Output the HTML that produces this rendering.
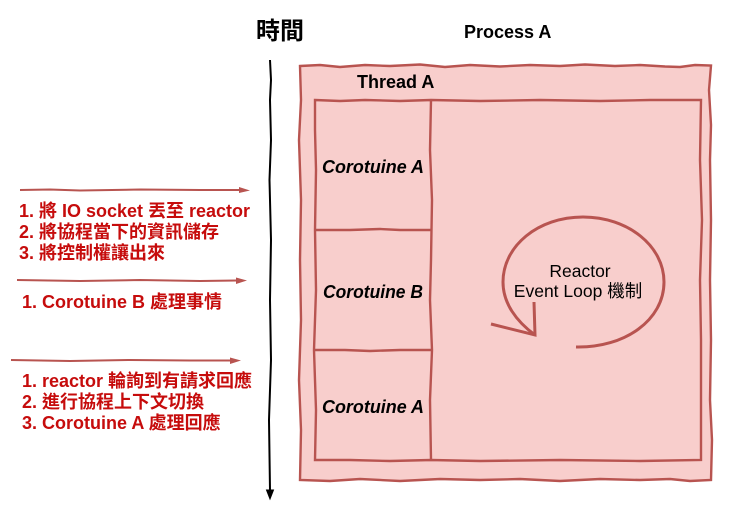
<!DOCTYPE html>
<html><head><meta charset="utf-8"><style>
html,body{margin:0;padding:0;background:#fff;width:731px;height:511px;overflow:hidden}
svg{display:block}
text{font-family:"Liberation Sans","Noto Sans CJK TC",sans-serif}
.r{fill:#c60c0c;font-weight:bold;font-size:18px}
.c{font-weight:bold;font-style:italic;font-size:18px;fill:#000}
.b{font-weight:bold;font-size:18px;fill:#000}
.l{fill:none;stroke:#b85450;stroke-width:2.4}
</style></head><body>
<svg width="731" height="511" viewBox="0 0 731 511" xmlns="http://www.w3.org/2000/svg">
<path d="M300 66 L320 65 L340 67 L365 65 L390 66 L420 64.500 L445 67 L470 65 L500 66.500 L530 65 L560 66 L585 64.500 L615 66 L640 65 L665 66.500 L680 67 L695 65 L711 65.500 L709 90 L711 125 L710 160 L711 220 L710 280 L711 340 L710 400 L712 440 L711 480 L690 481 L670 479 L640 480 L600 479 L560 481 L520 479 L480 480 L440 479 L400 481 L360 479 L330 481 L300 480 L301 430 L299 380 L301 320 L300 260 L301 200 L299 140 L301 100 Z" fill="#f8cecc" stroke="#b85450" stroke-width="2.4"/>
<path class="l" d="M315 100 L340 101 L365 100 L400 101 L431 100 L480 101 L540 100 L600 101 L650 100 L701 100 L700 160 L702 220 L700 280 L701 340 L701 400 L701 460 L640 461 L560 460 L480 461 L431 460 L390 461 L350 460 L315 460 L316 410 L314 350 L316 290 L315 230 L316 170 L315 130 Z"/>
<path class="l" d="M431 100 L430 150 L432 200 L431 260 L430 300 L432 350 L430 400 L431 460"/>
<path class="l" d="M315 230 L350 230 L380 229 L400 230 L431 230"/>
<path class="l" d="M315 350 L345 350 L370 351 L400 350 L431 350"/>
<path d="M576 347 C625 348 664 320 664 282 C664 246 628 217 583 217 C538 217 503 246 503 282 C503 303 516 321 535 335" fill="none" stroke="#b85450" stroke-width="3"/>
<path d="M534 302 L535 335 L491 324" fill="none" stroke="#b85450" stroke-width="3"/>
<path d="M270 60 L271 80 L270 100 L271 140 L269.500 180 L271 240 L270 300 L271 360 L269 420 L270 490" fill="none" stroke="#000" stroke-width="2"/>
<path d="M266.500 490 L273.500 490 L270 499 Z" fill="#000" stroke="#000"/>
<path d="M20 190 L50 189.500 L80 190.500 L140 189.500 L200 190 L240 190" fill="none" stroke="#b85450" stroke-width="2"/>
<path d="M239 187 L250 190.500 L239 193 Z" fill="#b85450"/>
<path d="M17 280 L80 281 L140 280 L200 281 L237 280.500" fill="none" stroke="#b85450" stroke-width="2"/>
<path d="M236 277.500 L247 280.500 L236 284 Z" fill="#b85450"/>
<path d="M11 360 L70 361 L130 360 L190 360.500 L231 360.500" fill="none" stroke="#b85450" stroke-width="2"/>
<path d="M230 357.500 L241 360.500 L230 364 Z" fill="#b85450"/>
<text x="256" y="39" font-size="24" font-weight="bold" fill="#000">時間</text>
<text x="464" y="38" class="b">Process A</text>
<text x="357" y="88" class="b">Thread A</text>
<text x="322" y="173" class="c" textLength="102" lengthAdjust="spacingAndGlyphs">Corotuine A</text>
<text x="323" y="298" class="c" textLength="100" lengthAdjust="spacingAndGlyphs">Corotuine B</text>
<text x="322" y="413" class="c" textLength="102" lengthAdjust="spacingAndGlyphs">Corotuine A</text>
<text x="580" y="277" font-size="17.500" text-anchor="middle" fill="#000">Reactor</text>
<text x="578" y="297" font-size="17.500" text-anchor="middle" fill="#000">Event Loop 機制</text>
<text x="19" y="217" class="r" textLength="231" lengthAdjust="spacingAndGlyphs">1. 將 IO socket 丟至 reactor</text>
<text x="19" y="238" class="r">2. 將協程當下的資訊儲存</text>
<text x="19" y="259" class="r">3. 將控制權讓出來</text>
<text x="22" y="308" class="r">1. Corotuine B 處理事情</text>
<text x="22" y="387" class="r">1. reactor 輪詢到有請求回應</text>
<text x="22" y="408" class="r">2. 進行協程上下文切換</text>
<text x="22" y="429" class="r">3. Corotuine A 處理回應</text>
</svg>
</body></html>
